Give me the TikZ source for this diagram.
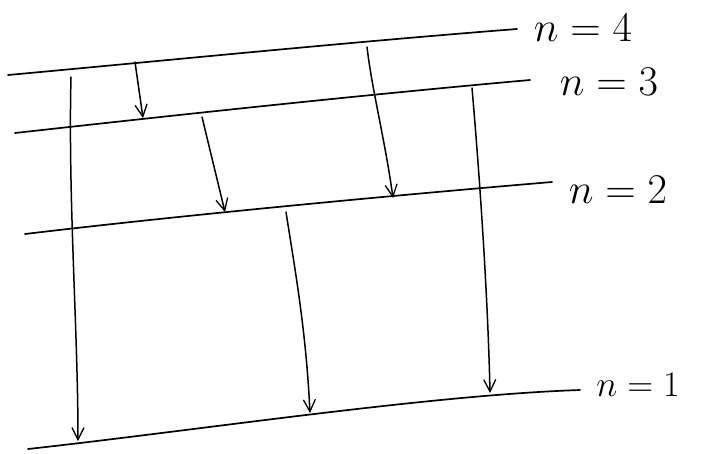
\documentclass[tikz,border=0pt]{standalone}
\usetikzlibrary{arrows.meta}
\begin{document}
\begin{tikzpicture}[x=1pt,y=-1pt,
  level/.style={line width=1.7pt,line cap=round},
  trans/.style={line width=1.5pt,line cap=round,-{Straight Barb[length=12pt,width=12pt,line width=1.3pt]}},
  lab/.style={font=\Huge,scale=1.7,inner sep=0pt}]
\useasboundingbox (0,0) rectangle (701,453);
% level end points
\coordinate (s4) at (8,75);   \coordinate (e4) at (517,29);
\coordinate (s3) at (15,133); \coordinate (e3) at (530,80);
\coordinate (s2) at (25,234); \coordinate (e2) at (552,182);
\coordinate (s1) at (28,449); \coordinate (e1) at (580,390);
% levels
\draw[level] (s4) .. controls (150,62) and (350,42) .. (e4);
\draw[level] (s3) .. controls (150,118) and (350,96) .. (e3);
\draw[level] (s2) .. controls (150,219) and (350,199) .. (e2);
\draw[level] (s1) .. controls (200,430) and (430,395) .. (e1);
% labels
\node[lab] (l4) at (583,28) {$n=4$};
\node[lab] (l3) at (609,82) {$n=3$};
\node[lab] (l2) at (618,190) {$n=2$};
\node[lab,scale=0.85] (l1) at (638,385) {$n=1$};
% transition endpoints
\coordinate (a1s) at (71,77);   \coordinate (a1e) at (78,441);
\coordinate (a2s) at (135,62);  \coordinate (a2e) at (143,118);
\coordinate (a3s) at (202,117); \coordinate (a3e) at (225,212);
\coordinate (a4s) at (367,47);  \coordinate (a4e) at (393,198);
\coordinate (a5s) at (472,88);  \coordinate (a5e) at (490,393);
\coordinate (a6s) at (286,212); \coordinate (a6e) at (310,413);
% transitions
\draw[trans] (a1s) .. controls (68,200) and (78,330) .. (a1e);
\draw[trans] (a2s) -- (a2e);
\draw[trans] (a3s) -- (a3e);
\draw[trans] (a4s) .. controls (372,90) and (385,140) .. (a4e);
\draw[trans] (a5s) .. controls (480,180) and (488,300) .. (a5e);
\draw[trans] (a6s) .. controls (295,270) and (306,330) .. (a6e);
\end{tikzpicture}
\end{document}
